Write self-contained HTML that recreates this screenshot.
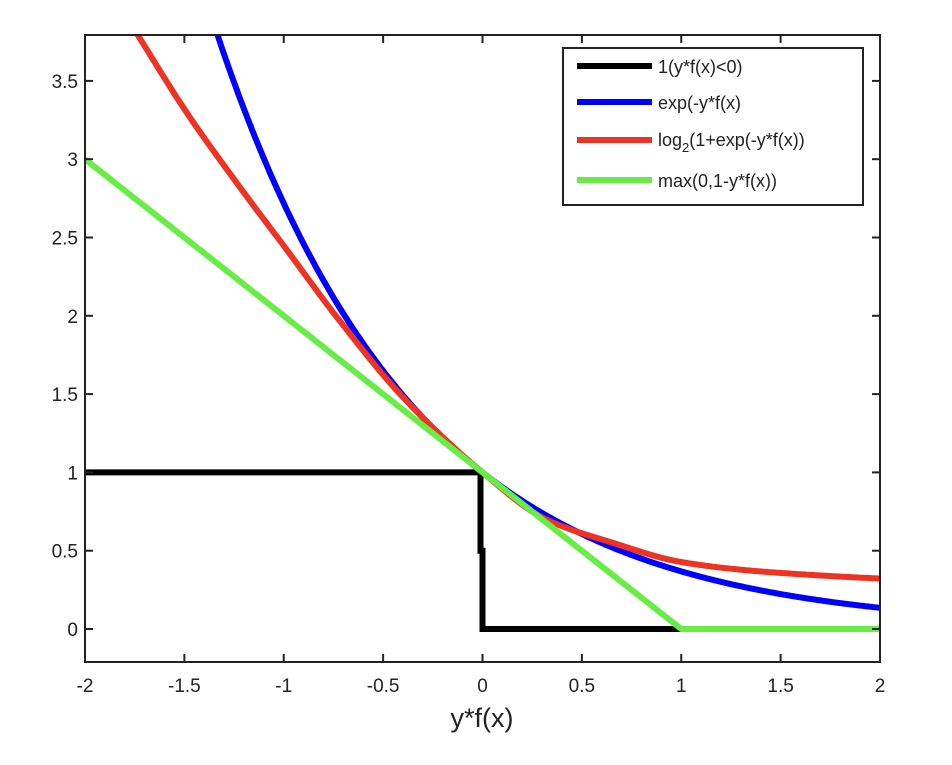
<!DOCTYPE html>
<html><head><meta charset="utf-8"><style>
body{margin:0;background:#fff}
svg text{font-family:"Liberation Sans",sans-serif;fill:#222}
</style></head><body>
<svg id="s" width="952" height="760" xmlns="http://www.w3.org/2000/svg">
<defs><clipPath id="c"><rect x="85" y="35" width="795" height="627"/></clipPath></defs>
<rect x="0" y="0" width="952" height="760" fill="#fff"/>
<g id="curves" clip-path="url(#c)"></g>
<rect x="85" y="35" width="795" height="627" fill="none" stroke="#222" stroke-width="2"/>
<g id="ticks" stroke="#222" stroke-width="2"></g>
<g id="labels" font-size="19"></g>
<text x="482" y="727" font-size="27" text-anchor="middle">y*f(x)</text>
<rect x="563" y="48" width="300" height="157" fill="#fff" stroke="#222" stroke-width="2"/>
<line x1="577" y1="66" x2="652" y2="66" stroke="#000" stroke-width="6"/>
<line x1="577" y1="102" x2="652" y2="102" stroke="#0000ff" stroke-width="6"/>
<line x1="577" y1="140" x2="652" y2="140" stroke="#ee3322" stroke-width="6"/>
<line x1="577" y1="180" x2="652" y2="180" stroke="#66ee44" stroke-width="6"/>
<g font-size="18">
<text x="658" y="73">1(y*f(x)&lt;0)</text>
<text x="658" y="109">exp(-y*f(x)</text>
<text x="658" y="146">log<tspan font-size="13" dy="6">2</tspan><tspan dy="-6">(1+exp(-y*f(x))</tspan></text>
<text x="658" y="187">max(0,1-y*f(x))</text>
</g>
</svg>
<script>
var X=function(v){return 85+(v+2)*198.75},Y=function(v){return 629-v*156.6};
var g=document.getElementById('curves'),ns='http://www.w3.org/2000/svg';
function path(f,col){var d='';for(var i=0;i<=800;i++){var x=-2+4*i/800;d+=(i?'L':'M')+X(x).toFixed(1)+' '+Y(f(x)).toFixed(1);}
var p=document.createElementNS(ns,'path');p.setAttribute('d',d);p.setAttribute('fill','none');p.setAttribute('stroke',col);p.setAttribute('stroke-width','6');p.setAttribute('stroke-linejoin','round');g.appendChild(p);}
var b=document.createElementNS(ns,'path');b.setAttribute('d','M'+X(-2)+' '+Y(1)+'L'+X(-0.01)+' '+Y(1)+'L'+X(-0.01)+' '+Y(0.5)+'L'+X(0)+' '+Y(0.5)+'L'+X(0)+' '+Y(0)+'L'+X(1)+' '+Y(0));
b.setAttribute('fill','none');b.setAttribute('stroke','#000');b.setAttribute('stroke-width','6');g.appendChild(b);
path(function(x){return Math.exp(-x)},'#0000ff');
var P=[[-2.1,4.54],[-1.733,3.79],[-1.487,3.295],[-1.22,2.82],[-0.984,2.42],[-0.732,1.99],[-0.4,1.48],[0,1],[0.32,0.70],[0.657,0.55],[0.99,0.43],[1.33,0.375],[1.66,0.345],[1.985,0.323],[2.1,0.317]];
function red(x){
 var n=P.length,m=[],dl=[];
 for(var i=0;i<n-1;i++)dl.push((P[i+1][1]-P[i][1])/(P[i+1][0]-P[i][0]));
 m[0]=dl[0];m[n-1]=dl[n-2];
 for(var i=1;i<n-1;i++)m[i]=(dl[i-1]*dl[i]<=0)?0:2/(1/dl[i-1]+1/dl[i]);
 for(var i=0;i<n-1;i++){if(x<=P[i+1][0]){var h=P[i+1][0]-P[i][0],t=(x-P[i][0])/h,t2=t*t,t3=t2*t;
  return (2*t3-3*t2+1)*P[i][1]+(t3-2*t2+t)*h*m[i]+(-2*t3+3*t2)*P[i+1][1]+(t3-t2)*h*m[i+1];}}
 return P[n-1][1];}
path(red,'#ee3322');
path(function(x){return Math.max(0,1-x)},'#66ee44');
var t=document.getElementById('ticks'),l=document.getElementById('labels');
function ln(a,b2,c,d){var e=document.createElementNS(ns,'line');e.setAttribute('x1',a);e.setAttribute('y1',b2);e.setAttribute('x2',c);e.setAttribute('y2',d);t.appendChild(e);}
function tx(x,y,s,anc){var e=document.createElementNS(ns,'text');e.setAttribute('x',x);e.setAttribute('y',y);e.setAttribute('text-anchor',anc);e.textContent=s;l.appendChild(e);}
for(var i=0;i<=8;i++){var v=-2+i*0.5,x=X(v);ln(x,662,x,654);ln(x,35,x,43);tx(x,692,String(v),'middle');}
for(var i=0;i<=7;i++){var v=i*0.5,y=Y(v);ln(85,y,93,y);ln(880,y,872,y);tx(78,y+7,String(v),'end');}
</script>
</body></html>
